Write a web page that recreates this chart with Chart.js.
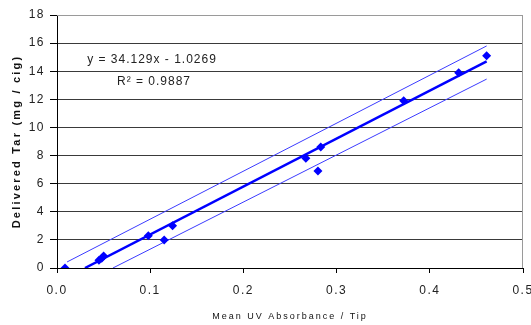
<!DOCTYPE html>
<html>
<head>
<meta charset="utf-8">
<script src="https://cdn.jsdelivr.net/npm/chart.js@4/dist/chart.umd.min.js"></script>
<style>
  html, body { margin: 0; padding: 0; background: #fff; }
  #wrap { width: 531px; height: 325px; }
</style>
</head>
<body>
<div id="wrap"><canvas id="myChart" width="531" height="325"></canvas></div>
<script>
// measured points
const absorbance = [0.0086, 0.045, 0.048, 0.050, 0.098, 0.115, 0.124, 0.267, 0.280, 0.283, 0.372, 0.431, 0.461];
const tar = [0, 0.55, 0.7, 0.85, 2.3, 2.0, 3.0, 7.8, 6.9, 8.6, 11.9, 13.9, 15.1];

// linear fit and its bands (end points)
const trendX = [0.030, 0.461];
const trendY = [0, 14.7];
const upperX = [0.0108, 0.461];
const upperY = [0.43, 15.8];
const lowerX = [0.060, 0.461];
const lowerY = [0, 13.44];

const yTicks = [0, 2, 4, 6, 8, 10, 12, 14, 16, 18];
const xTicks = [0, 0.1, 0.2, 0.3, 0.4, 0.5];

const eqText = 'y = 34.129x - 1.0269';
const r2Text = 'R² = 0.9887';
const xTitle = 'Mean UV Absorbance / Tip';
const yTitle = 'Delivered Tar (mg / cig)';

const pts = (xs, ys) => xs.map((x, i) => ({ x: x, y: ys[i] }));

const FONT = '"Liberation Sans", Arial, sans-serif';

const extras = {
  id: 'extras',
  beforeDraw(chart) {
    chart.ctx.letterSpacing = '1.5px';
  },
  afterDraw(chart) {
    const { ctx, chartArea: a } = chart;
    ctx.save();
    // grey frame on top / right
    ctx.strokeStyle = '#9a9a9a';
    ctx.lineWidth = 1;
    ctx.beginPath();
    ctx.moveTo(a.left, a.top + 0.5);
    ctx.lineTo(a.right - 0.5, a.top + 0.5);
    ctx.lineTo(a.right - 0.5, a.bottom);
    ctx.stroke();

    // equation
    ctx.fillStyle = '#222';
    ctx.textAlign = 'center';
    ctx.textBaseline = 'middle';
    ctx.letterSpacing = '1px';
    ctx.font = '12px ' + FONT;
    ctx.fillText(eqText, 152, 60);
    ctx.fillText(r2Text, 154, 82);

    // axis titles
    ctx.letterSpacing = '2px';
    ctx.font = '9px ' + FONT;
    ctx.fillStyle = '#111';
    ctx.fillText(xTitle, (a.left + a.right) / 2, 317);

    ctx.translate(17, (a.top + a.bottom) / 2);
    ctx.rotate(-Math.PI / 2);
    ctx.font = 'bold 11px ' + FONT;
    ctx.letterSpacing = '2.2px';
    ctx.fillText(yTitle, 0, 0);
    ctx.restore();
  }
};

const ctx = document.getElementById('myChart').getContext('2d');
new Chart(ctx, {
  type: 'scatter',
  data: {
    datasets: [
      {
        label: 'Tar',
        data: pts(absorbance, tar),
        pointStyle: 'rectRot',
        pointRadius: 4.5,
        backgroundColor: '#0000ff',
        borderColor: '#0000ff',
        borderWidth: 0,
        order: 0,
      },
      {
        label: 'Linear',
        data: pts(trendX, trendY),
        showLine: true,
        borderColor: '#0000ff',
        borderWidth: 2.5,
        pointRadius: 0,
        order: 1,
      },
      {
        label: 'Upper',
        data: pts(upperX, upperY),
        showLine: true,
        borderColor: '#3b3bff',
        borderWidth: 1,
        pointRadius: 0,
        order: 2,
      },
      {
        label: 'Lower',
        data: pts(lowerX, lowerY),
        showLine: true,
        borderColor: '#3b3bff',
        borderWidth: 1,
        pointRadius: 0,
        order: 2,
      },
    ],
  },
  options: {
    responsive: false,
    animation: false,
    devicePixelRatio: 1,
    layout: { padding: { left: 0, top: 15, right: 8, bottom: 0 } },
    plugins: {
      legend: { display: false },
      tooltip: { enabled: false },
    },
    scales: {
      x: {
        type: 'linear',
        min: 0,
        max: 0.5,
        afterBuildTicks: (s) => { s.ticks = xTicks.map(v => ({ value: v })); },
        afterFit: (s) => { s.height = 57; s.paddingLeft = 0; s.paddingRight = 0; },
        ticks: {
          callback: (v) => v.toFixed(1),
          color: '#222',
          font: { family: FONT, size: 12 },
          padding: 10,
          maxRotation: 0,
        },
        grid: {
          drawOnChartArea: false,
          drawTicks: true,
          tickLength: 5,
          tickColor: '#000',
        },
        border: { color: '#000', width: 1 },
      },
      y: {
        type: 'linear',
        min: 0,
        max: 18,
        afterBuildTicks: (s) => { s.ticks = yTicks.map(v => ({ value: v })); },
        afterFit: (s) => { s.width = 57; s.paddingTop = 0; s.paddingBottom = 0; },
        ticks: {
          color: '#222',
          font: { family: FONT, size: 12 },
          padding: 5,
        },
        grid: {
          color: (c) => (c.tick && c.tick.value === 18 ? '#9a9a9a' : '#3a3a3a'),
          lineWidth: 1,
          tickLength: 7,
          tickColor: '#000',
        },
        border: { color: '#000', width: 1 },
      },
    },
  },
  plugins: [extras],
});
</script>
</body>
</html>
